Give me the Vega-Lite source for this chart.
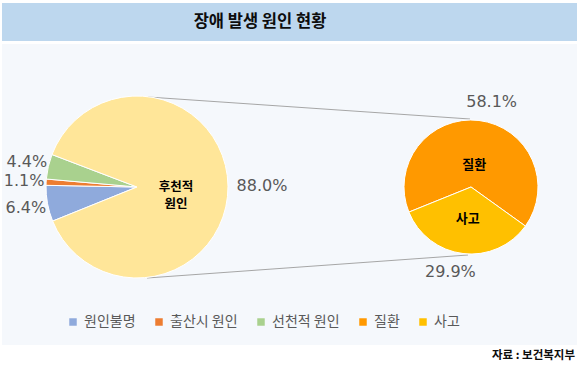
{
  "$schema": "https://vega.github.io/schema/vega-lite/v6.json",
  "width": 580,
  "height": 372,
  "padding": 0,
  "autosize": {"type": "none"},
  "background": "#ffffff",
  "config": {"view": {"stroke": null}, "font": "Noto Sans CJK KR"},
  "datasets": {
    "left": [
      {"name": "원인불명", "value": 0.064, "order": 1},
      {"name": "출산시 원인", "value": 0.011, "order": 2},
      {"name": "선천적 원인", "value": 0.044, "order": 3},
      {"name": "후천적 원인", "value": 0.880, "order": 4}
    ],
    "right": [
      {"name": "질환", "value": 0.581, "order": 1},
      {"name": "사고", "value": 0.299, "order": 2}
    ]
  },
  "resolve": {"scale": {"theta": "independent"}},
  "layer": [
    {
      "data": {"values": [{}]},
      "mark": {"type": "rect", "color": "#BDD7EE"},
      "encoding": {
        "x": {"datum": 2, "type": "quantitative", "scale": {"domain": [0, 580], "nice": false, "zero": false}, "axis": null},
        "x2": {"datum": 577},
        "y": {"datum": 3, "type": "quantitative", "scale": {"domain": [0, 372], "nice": false, "zero": false, "reverse": true}, "axis": null},
        "y2": {"datum": 41}
      }
    },
    {
      "data": {"values": [{}]},
      "mark": {"type": "rect", "color": "#F5F8FC"},
      "encoding": {
        "x": {"datum": 2, "type": "quantitative", "scale": {"domain": [0, 580], "nice": false, "zero": false}, "axis": null},
        "x2": {"datum": 577},
        "y": {"datum": 44, "type": "quantitative", "scale": {"domain": [0, 372], "nice": false, "zero": false, "reverse": true}, "axis": null},
        "y2": {"datum": 345}
      }
    },
    {
      "data": {"values": [{}]},
      "mark": {"type": "text", "text": "장애 발생 원인 현황", "fontSize": 16.5, "fontWeight": "bold", "color": "#0d0d0d", "font": "Noto Sans CJK KR"},
      "encoding": {
        "x": {"datum": 260, "type": "quantitative", "scale": {"domain": [0, 580], "nice": false, "zero": false}, "axis": null},
        "y": {"datum": 22, "type": "quantitative", "scale": {"domain": [0, 372], "nice": false, "zero": false, "reverse": true}, "axis": null}
      }
    },
    {
      "data": {"values": [{}]},
      "mark": {"type": "rule", "color": "#A6A6A6", "strokeWidth": 1},
      "encoding": {
        "x": {"datum": 148, "type": "quantitative", "scale": {"domain": [0, 580], "nice": false, "zero": false}, "axis": null},
        "x2": {"datum": 470},
        "y": {"datum": 97, "type": "quantitative", "scale": {"domain": [0, 372], "nice": false, "zero": false, "reverse": true}, "axis": null},
        "y2": {"datum": 119}
      }
    },
    {
      "data": {"values": [{}]},
      "mark": {"type": "rule", "color": "#A6A6A6", "strokeWidth": 1},
      "encoding": {
        "x": {"datum": 147, "type": "quantitative", "scale": {"domain": [0, 580], "nice": false, "zero": false}, "axis": null},
        "x2": {"datum": 468},
        "y": {"datum": 278, "type": "quantitative", "scale": {"domain": [0, 372], "nice": false, "zero": false, "reverse": true}, "axis": null},
        "y2": {"datum": 255}
      }
    },
    {
      "data": {"name": "left"},
      "mark": {"type": "arc", "outerRadius": 91, "stroke": "#ffffff", "strokeWidth": 1},
      "encoding": {
        "x": {"datum": 137, "type": "quantitative", "scale": {"domain": [0, 580], "nice": false, "zero": false}, "axis": null},
        "y": {"datum": 187, "type": "quantitative", "scale": {"domain": [0, 372], "nice": false, "zero": false, "reverse": true}, "axis": null},
        "theta": {"field": "value", "type": "quantitative", "stack": true, "scale": {"range": [4.3284, 10.6116]}},
        "order": {"field": "order", "type": "quantitative"},
        "color": {
          "field": "name", "type": "nominal",
          "scale": {"domain": ["원인불명", "출산시 원인", "선천적 원인", "질환", "사고", "후천적 원인"], "range": ["#8FAADC", "#ED7D31", "#A9D18E", "#FF9900", "#FFC000", "#FFE699"]},
          "legend": {"orient": "none", "legendX": 66, "legendY": 315, "direction": "horizontal", "title": null, "values": ["원인불명", "출산시 원인", "선천적 원인", "질환", "사고"], "symbolType": "square", "symbolSize": 56, "symbolStrokeWidth": 0, "labelFontSize": 14, "labelColor": "#595959", "labelFont": "Noto Sans CJK KR", "columnPadding": 16, "labelOffset": 4}
        }
      }
    },
    {
      "data": {"name": "left"},
      "mark": {"type": "text", "radius": 113, "font": "DejaVu Sans", "fontSize": 16, "color": "#595959"},
      "encoding": {
        "x": {"datum": 137, "type": "quantitative", "scale": {"domain": [0, 580], "nice": false, "zero": false}, "axis": null},
        "y": {"datum": 187, "type": "quantitative", "scale": {"domain": [0, 372], "nice": false, "zero": false, "reverse": true}, "axis": null},
        "theta": {"field": "value", "type": "quantitative", "stack": true, "scale": {"range": [4.3284, 10.6116]}},
        "order": {"field": "order", "type": "quantitative"},
        "text": {"condition": {"test": "datum.value < 0.5", "field": "value", "type": "quantitative", "format": ".1%"}, "value": ""}
      }
    },
    {
      "data": {"name": "left"},
      "mark": {"type": "text", "radius": 125, "font": "DejaVu Sans", "fontSize": 16, "color": "#595959"},
      "encoding": {
        "x": {"datum": 137, "type": "quantitative", "scale": {"domain": [0, 580], "nice": false, "zero": false}, "axis": null},
        "y": {"datum": 187, "type": "quantitative", "scale": {"domain": [0, 372], "nice": false, "zero": false, "reverse": true}, "axis": null},
        "theta": {"field": "value", "type": "quantitative", "stack": true, "scale": {"range": [4.3284, 10.6116]}},
        "order": {"field": "order", "type": "quantitative"},
        "text": {"condition": {"test": "datum.value > 0.5", "field": "value", "type": "quantitative", "format": ".1%"}, "value": ""}
      }
    },
    {
      "data": {"name": "left"},
      "mark": {"type": "text", "radius": 39, "font": "Noto Sans CJK KR", "fontSize": 12.5, "fontWeight": "bold", "color": "#000000", "lineHeight": 17.5},
      "encoding": {
        "x": {"datum": 137, "type": "quantitative", "scale": {"domain": [0, 580], "nice": false, "zero": false}, "axis": null},
        "y": {"datum": 187, "type": "quantitative", "scale": {"domain": [0, 372], "nice": false, "zero": false, "reverse": true}, "axis": null},
        "theta": {"field": "value", "type": "quantitative", "stack": true, "scale": {"range": [4.3284, 10.6116]}},
        "order": {"field": "order", "type": "quantitative"},
        "text": {"condition": {"test": "datum.name === '후천적 원인'", "value": ["후천적", "원인"]}, "value": ""}
      }
    },
    {
      "data": {"name": "right"},
      "mark": {"type": "arc", "outerRadius": 67, "stroke": "#ffffff", "strokeWidth": 1},
      "encoding": {
        "x": {"datum": 471, "type": "quantitative", "scale": {"domain": [0, 580], "nice": false, "zero": false}, "axis": null},
        "y": {"datum": 187, "type": "quantitative", "scale": {"domain": [0, 372], "nice": false, "zero": false, "reverse": true}, "axis": null},
        "theta": {"field": "value", "type": "quantitative", "stack": true, "scale": {"range": [4.3284, 10.6116]}},
        "order": {"field": "order", "type": "quantitative"},
        "color": {
          "field": "name", "type": "nominal",
          "scale": {"domain": ["원인불명", "출산시 원인", "선천적 원인", "질환", "사고", "후천적 원인"], "range": ["#8FAADC", "#ED7D31", "#A9D18E", "#FF9900", "#FFC000", "#FFE699"]},
          "legend": {"orient": "none", "legendX": 66, "legendY": 315, "direction": "horizontal", "title": null, "values": ["원인불명", "출산시 원인", "선천적 원인", "질환", "사고"], "symbolType": "square", "symbolSize": 56, "symbolStrokeWidth": 0, "labelFontSize": 14, "labelColor": "#595959", "labelFont": "Noto Sans CJK KR", "columnPadding": 16, "labelOffset": 4}
        }
      }
    },
    {
      "data": {"name": "right"},
      "mark": {"type": "text", "radius": 87, "thetaOffset": 0.12, "font": "DejaVu Sans", "fontSize": 16, "color": "#595959"},
      "encoding": {
        "x": {"datum": 471, "type": "quantitative", "scale": {"domain": [0, 580], "nice": false, "zero": false}, "axis": null},
        "y": {"datum": 187, "type": "quantitative", "scale": {"domain": [0, 372], "nice": false, "zero": false, "reverse": true}, "axis": null},
        "theta": {"field": "value", "type": "quantitative", "stack": true, "scale": {"range": [4.3284, 10.6116]}},
        "order": {"field": "order", "type": "quantitative"},
        "text": {"field": "value", "type": "quantitative", "format": ".1%"}
      }
    },
    {
      "data": {"name": "right"},
      "mark": {"type": "text", "radius": 27, "dy": 5, "font": "Noto Sans CJK KR", "fontSize": 13, "fontWeight": "bold", "color": "#000000"},
      "encoding": {
        "x": {"datum": 471, "type": "quantitative", "scale": {"domain": [0, 580], "nice": false, "zero": false}, "axis": null},
        "y": {"datum": 187, "type": "quantitative", "scale": {"domain": [0, 372], "nice": false, "zero": false, "reverse": true}, "axis": null},
        "theta": {"field": "value", "type": "quantitative", "stack": true, "scale": {"range": [4.3284, 10.6116]}},
        "order": {"field": "order", "type": "quantitative"},
        "text": {"field": "name", "type": "nominal"}
      }
    },
    {
      "data": {"values": [{}]},
      "mark": {"type": "text", "text": "자료 : 보건복지부", "fontSize": 11.5, "fontWeight": "bold", "color": "#0d0d0d", "font": "Noto Sans CJK KR", "align": "right"},
      "encoding": {
        "x": {"datum": 575, "type": "quantitative", "scale": {"domain": [0, 580], "nice": false, "zero": false}, "axis": null},
        "y": {"datum": 356, "type": "quantitative", "scale": {"domain": [0, 372], "nice": false, "zero": false, "reverse": true}, "axis": null}
      }
    }
  ]
}
